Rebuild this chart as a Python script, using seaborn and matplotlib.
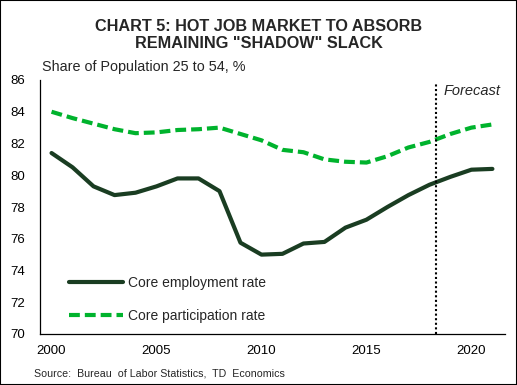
import pandas as pd
import numpy as np
import matplotlib.pyplot as plt
import seaborn as sns
from matplotlib.patches import Rectangle

years = list(range(2000, 2022))
employment = [81.4, 80.5, 79.3, 78.75, 78.9, 79.3, 79.8, 79.8, 79.0, 75.75, 75.0,
              75.05, 75.7, 75.8, 76.7, 77.2, 78.0, 78.75, 79.4, 79.9, 80.35, 80.4]
participation = [84.0, 83.6, 83.25, 82.9, 82.65, 82.7, 82.85, 82.9, 83.0, 82.6, 82.2,
                 81.6, 81.45, 81.0, 80.85, 80.8, 81.2, 81.75, 82.1, 82.6, 83.0, 83.2]
forecast_start = 2018.33

sns.set_theme(style="white")
plt.rcParams['font.family'] = ['Liberation Sans', 'DejaVu Sans']

data = pd.DataFrame({"year": years, "emp": employment, "part": participation})

fig = plt.figure(figsize=(5.17, 3.85), dpi=100)
ax = fig.add_axes([40/517, 51/385, 465/517, 254/385])

sns.lineplot(data=data, x="year", y="emp", ax=ax, color="#1a3d22", linewidth=3,
             label="Core employment rate")
sns.lineplot(data=data, x="year", y="part", ax=ax, color="#00b32d", linewidth=3,
             linestyle=(0, (2.6, 1.2)), label="Core participation rate")

ax.axvline(forecast_start, ymax=0.985, color="black", linestyle=(0, (1, 1.2)), linewidth=1.5)
ax.text(forecast_start + 0.35, 85.28, "Forecast", fontstyle="italic", fontsize=10.5,
        ha="left", va="center")

ax.set_xlim(1999.45, 2021.6)
ax.set_ylim(70, 86)
ax.set_xticks([2000, 2005, 2010, 2015, 2020])
ax.set_yticks(range(70, 87, 2))
ax.tick_params(axis="both", length=0, labelsize=9.5, colors="black")
ax.tick_params(axis="x", pad=8)
ax.tick_params(axis="y", pad=11)
ax.set_xlabel("")
ax.set_ylabel("")
for s in ["top", "right"]:
    ax.spines[s].set_visible(False)
for s in ["left", "bottom"]:
    ax.spines[s].set_color("black")
    ax.spines[s].set_linewidth(0.9)

ax.legend(loc="lower left", bbox_to_anchor=(0.035, -0.006), frameon=False, fontsize=10,
          handlelength=3.9, labelspacing=1.4, handletextpad=0.4)

fig.text(0.5, 1 - 35/385, "CHART 5: HOT JOB MARKET TO ABSORB\nREMAINING \"SHADOW\" SLACK",
         ha="center", va="center", fontsize=11.7, fontweight="bold", linespacing=1.15)
fig.text(42/517, 1 - 67/385, "Share of Population 25 to 54, %", fontsize=10.4,
         ha="left", va="center")
fig.text(34/517, 1 - 373/385, "Source:  Bureau  of Labor Statistics,  TD  Economics",
         fontsize=7.7, ha="left", va="center")

fig.patches.append(Rectangle((0, 0), 1, 1, transform=fig.transFigure, fill=False,
                             edgecolor="black", linewidth=1.5))

fig.savefig("out.png", dpi=100)
